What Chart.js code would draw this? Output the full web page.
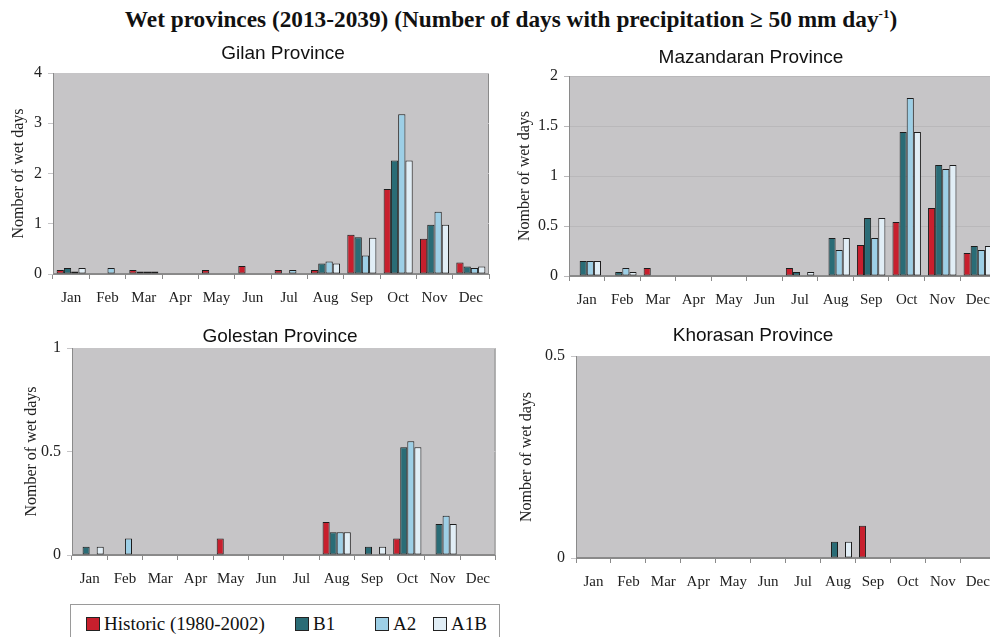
<!DOCTYPE html>
<html>
<head>
<meta charset="utf-8">
<script src="https://cdn.jsdelivr.net/npm/chart.js@4.4.0/dist/chart.umd.min.js"></script>
<style>
  html, body { margin: 0; padding: 0; background: #fff; }
  #page { position: relative; width: 990px; height: 637px; overflow: hidden; background: #fff; }
  #mainTitle {
    position: absolute; left: 0; top: 6px; width: 1022px; text-align: center;
    font: bold 23.3px "Liberation Serif", "Times New Roman", serif; color: #111;
  }
  #mainTitle sup { font-size: 13px; }
  .panel { position: absolute; }
  #legendBox {
    position: absolute; left: 70px; top: 604px; width: 430px; height: 45px;
    border: 1px solid #9a9a9a; box-sizing: border-box;
    font: 19px "Liberation Serif", "Times New Roman", serif; color: #111;
  }
  .legendItem { position: absolute; top: 8px; white-space: nowrap; line-height: 22px; }
  .legendSwatch {
    display: inline-block; width: 12px; height: 12px; border: 1px solid #222;
    margin-right: 4px; vertical-align: -1px;
  }
</style>
</head>
<body>
<div id="page">
  <div id="mainTitle">Wet provinces (2013-2039) (Number of days with precipitation ≥ 50 mm day<sup>-1</sup>)</div>
  <canvas id="gilanChart" class="panel" style="left:0px;top:40px;width:495px;height:270px"></canvas>
  <canvas id="mazandaranChart" class="panel" style="left:500px;top:40px;width:500px;height:272px"></canvas>
  <canvas id="golestanChart" class="panel" style="left:0px;top:315px;width:500px;height:276px"></canvas>
  <canvas id="khorasanChart" class="panel" style="left:500px;top:315px;width:500px;height:279px"></canvas>
  <div id="legendBox"></div>
</div>
<script>
// Months (x axis)
const months = ['Jan', 'Feb', 'Mar', 'Apr', 'May', 'Jun', 'Jul', 'Aug', 'Sep', 'Oct', 'Nov', 'Dec'];

// Series names and colours
const seriesNames = ['Historic (1980-2002)', 'B1', 'A2', 'A1B'];
const seriesColors = ['#c81f2d', '#2a6c76', '#9dcfe6', '#e1eef6'];

// Gilan Province
const gilanHistoric = [0.08, 0, 0.08, 0, 0.08, 0.16, 0.08, 0.08, 0.78, 1.69, 0.70, 0.23];
const gilanB1       = [0.12, 0, 0.05, 0, 0, 0, 0, 0.21, 0.73, 2.26, 0.98, 0.15];
const gilanA2       = [0.05, 0.12, 0.05, 0, 0, 0, 0.08, 0.25, 0.37, 3.18, 1.24, 0.12];
const gilanA1B      = [0.12, 0, 0.05, 0, 0, 0, 0, 0.21, 0.72, 2.26, 0.98, 0.15];

// Mazandaran Province
const mazHistoric = [0, 0, 0.08, 0, 0, 0, 0.08, 0, 0.31, 0.54, 0.68, 0.23];
const mazB1       = [0.15, 0.04, 0, 0, 0, 0, 0.04, 0.38, 0.58, 1.44, 1.11, 0.30];
const mazA2       = [0.15, 0.08, 0, 0, 0, 0, 0, 0.26, 0.38, 1.78, 1.07, 0.26];
const mazA1B      = [0.15, 0.04, 0, 0, 0, 0, 0.04, 0.38, 0.58, 1.44, 1.11, 0.30];

// Golestan Province
const golHistoric = [0, 0, 0, 0, 0.08, 0, 0, 0.16, 0, 0.08, 0, 0];
const golB1       = [0.04, 0, 0, 0, 0, 0, 0, 0.11, 0.04, 0.52, 0.15, 0];
const golA2       = [0, 0.08, 0, 0, 0, 0, 0, 0.11, 0, 0.55, 0.19, 0];
const golA1B      = [0.04, 0, 0, 0, 0, 0, 0, 0.11, 0.04, 0.52, 0.15, 0];

// Khorasan Province
const khoHistoric = [0, 0, 0, 0, 0, 0, 0, 0, 0.08, 0, 0, 0];
const khoB1       = [0, 0, 0, 0, 0, 0, 0, 0.04, 0, 0, 0, 0];
const khoA2       = [0, 0, 0, 0, 0, 0, 0, 0, 0, 0, 0, 0];
const khoA1B      = [0, 0, 0, 0, 0, 0, 0, 0.04, 0, 0, 0, 0];

const serif = '"Liberation Serif", "Times New Roman", serif';
const sans = '"Liberation Sans", Arial, sans-serif';

// grey plot area with a thin frame
const plotBackground = {
    id: 'plotBackground',
    beforeDraw(chart) {
        const ctx = chart.ctx;
        const a = chart.chartArea;
        ctx.save();
        ctx.fillStyle = '#c6c5c7';
        ctx.fillRect(a.left, a.top, a.width, a.height);
        ctx.strokeStyle = '#8a8a8a';
        ctx.lineWidth = 1;
        ctx.strokeRect(a.left + 0.5, a.top + 0.5, a.width - 1, a.height - 1);
        ctx.restore();
    }
};

// province title, placed freely over the panel
const panelTitle = {
    id: 'panelTitle',
    afterDraw(chart, args, opts) {
        if (!opts.text) return;
        const ctx = chart.ctx;
        ctx.save();
        ctx.font = '19px ' + sans;
        ctx.fillStyle = '#111';
        ctx.textAlign = 'center';
        ctx.textBaseline = 'middle';
        ctx.fillText(opts.text, opts.x, opts.y);
        ctx.restore();
    }
};

Chart.register(plotBackground, panelTitle);

function makePanel(id, title, values, cfg) {
    const ctx = document.getElementById(id).getContext('2d');
    return new Chart(ctx, {
        type: 'bar',
        data: {
            labels: months,
            datasets: values.map((v, i) => ({
                label: seriesNames[i],
                data: v.map(d => (d === 0 ? null : d)), // no empty bar outlines on the axis
                backgroundColor: seriesColors[i],
                borderColor: '#1c1c1c',
                borderWidth: 1,
                borderSkipped: false,
                categoryPercentage: 0.8,
                barPercentage: 1.0
            }))
        },
        options: {
            responsive: false,
            animation: false,
            layout: { padding: { top: cfg.padTop, right: cfg.padRight, left: 0, bottom: 0 } },
            plugins: {
                legend: { display: false },
                tooltip: { enabled: false },
                panelTitle: { text: title, x: cfg.titleX, y: cfg.titleY }
            },
            scales: {
                x: {
                    grid: { drawOnChartArea: false, color: '#8a8a8a', tickLength: 5 },
                    border: { color: '#8a8a8a' },
                    ticks: { color: '#222', padding: 10, font: { family: serif, size: 15 } },
                    afterFit(scale) { scale.height = cfg.xHeight; }
                },
                y: {
                    min: 0,
                    max: cfg.max,
                    grid: { color: cfg.gridColor, tickLength: 5 },
                    border: { color: '#8a8a8a' },
                    ticks: {
                        stepSize: cfg.step,
                        color: '#222',
                        padding: 6,
                        font: { family: serif, size: 16 },
                        callback: function (value) {
                            return String(value); // 1 not 1.0
                        }
                    },
                    title: {
                        display: true,
                        text: 'Nomber of wet days',
                        color: '#222',
                        font: { family: serif, size: 16 },
                        padding: { top: cfg.titlePad, bottom: 0 }
                    },
                    afterFit(scale) { scale.width = cfg.yWidth; }
                }
            }
        }
    });
}

makePanel('gilanChart', 'Gilan Province',
    [gilanHistoric, gilanB1, gilanA2, gilanA1B],
    { padTop: 33, padRight: 6, xHeight: 36, yWidth: 53, max: 4, step: 1,
      gridColor: '#c6c5c7', titlePad: 9, titleX: 283, titleY: 14 });

makePanel('mazandaranChart', 'Mazandaran Province',
    [mazHistoric, mazB1, mazA2, mazA1B],
    { padTop: 36, padRight: 3, xHeight: 36, yWidth: 69, max: 2, step: 0.5,
      gridColor: '#b9b8ba', titlePad: 15, titleX: 251, titleY: 18 });

makePanel('golestanChart', 'Golestan Province',
    [golHistoric, golB1, golA2, golA1B],
    { padTop: 33, padRight: 1, xHeight: 36, yWidth: 72, max: 1, step: 0.5,
      gridColor: '#c6c5c7', titlePad: 22, titleX: 280, titleY: 22 });

makePanel('khorasanChart', 'Khorasan Province',
    [khoHistoric, khoB1, khoA2, khoA1B],
    { padTop: 41, padRight: 4, xHeight: 36, yWidth: 76, max: 0.5, step: 0.5,
      gridColor: '#c6c5c7', titlePad: 17, titleX: 253, titleY: 21 });

// Shared legend, built from the series arrays
const legendX = [15, 224, 304, 362];
const legendBox = document.getElementById('legendBox');
seriesNames.forEach((name, i) => {
    const item = document.createElement('div');
    item.className = 'legendItem';
    item.style.left = legendX[i] + 'px';
    const sw = document.createElement('span');
    sw.className = 'legendSwatch';
    sw.style.background = seriesColors[i];
    item.appendChild(sw);
    item.appendChild(document.createTextNode(name));
    legendBox.appendChild(item);
});
</script>
</body>
</html>
